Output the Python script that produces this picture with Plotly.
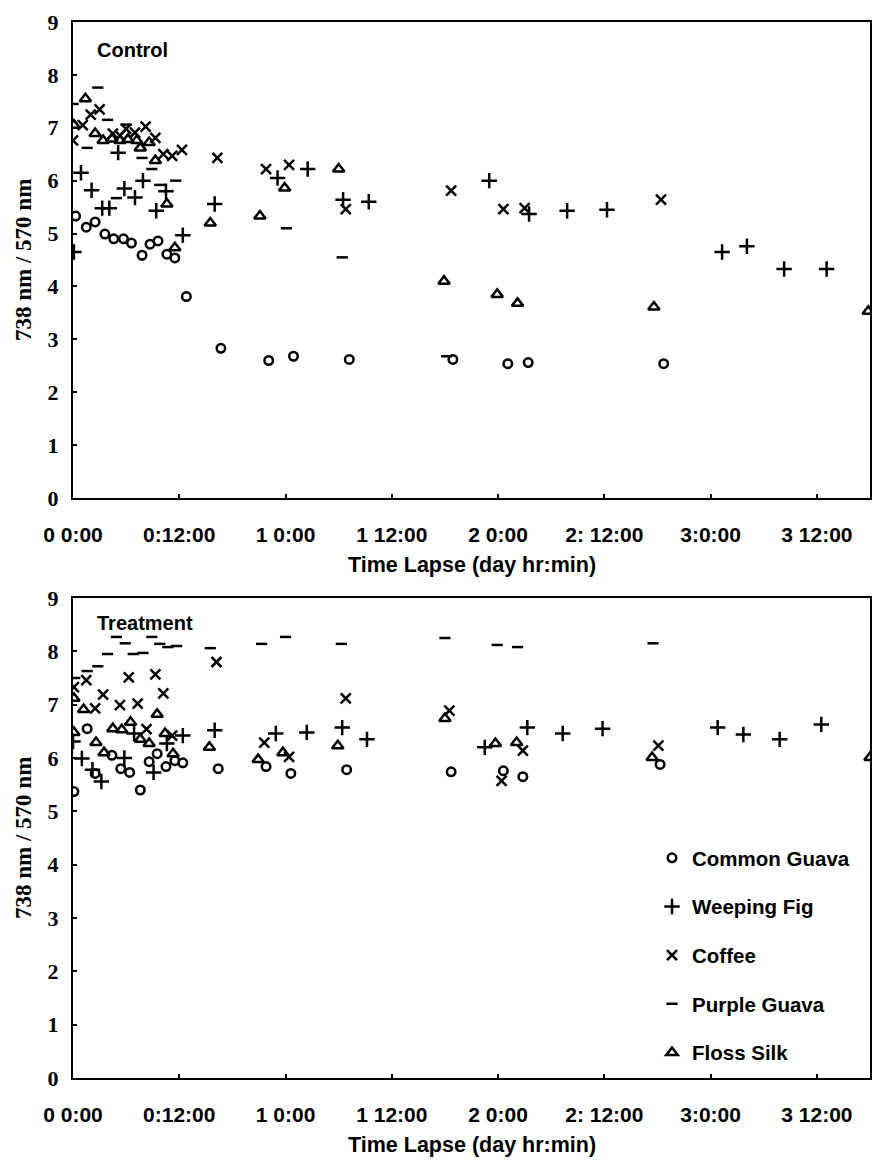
import plotly.graph_objects as go

# ---- Control panel: hours since start, 738/570 nm ratio ----
common_guava_ctrl_h = [0.3, 1.5, 2.5, 3.6, 4.6, 5.7, 6.6, 7.8, 8.7, 9.6, 10.6, 11.5, 12.8, 16.7, 22.1, 24.9, 31.2, 42.9, 49.1, 51.4, 66.7]
common_guava_ctrl_v = [5.33, 5.12, 5.22, 4.99, 4.90, 4.90, 4.82, 4.59, 4.80, 4.86, 4.61, 4.54, 3.81, 2.83, 2.60, 2.68, 2.62, 2.62, 2.54, 2.56, 2.54]

weeping_fig_ctrl_h = [0.1, 0.9, 2.1, 3.3, 4.1, 5.1, 5.8, 7.0, 7.9, 9.4, 10.5, 12.4, 16.0, 23.1, 26.5, 30.5, 33.4, 47.0, 51.5, 55.8, 60.3, 73.3, 76.1, 80.3, 85.1]
weeping_fig_ctrl_v = [4.65, 6.15, 5.82, 5.48, 5.48, 6.53, 5.85, 5.68, 6.00, 5.43, 5.80, 4.97, 5.56, 6.05, 6.22, 5.64, 5.60, 6.00, 5.37, 5.43, 5.45, 4.65, 4.76, 4.33, 4.33]

coffee_ctrl_h = [0.0, 1.1, 2.0, 3.0, 4.5, 5.3, 6.0, 7.0, 8.2, 9.3, 10.2, 11.2, 12.3, 16.3, 21.8, 24.4, 30.8, 42.7, 48.6, 51.0, 66.4]
coffee_ctrl_v = [6.76, 7.05, 7.25, 7.35, 6.89, 6.85, 6.98, 6.91, 7.02, 6.81, 6.50, 6.47, 6.58, 6.43, 6.22, 6.30, 5.46, 5.81, 5.46, 5.48, 5.64]

purple_guava_ctrl_h = [0.0, 1.6, 2.8, 3.9, 4.9, 6.0, 7.8, 8.9, 9.8, 11.6, 24.1, 30.4, 42.2]
purple_guava_ctrl_v = [7.45, 6.62, 7.76, 7.15, 5.67, 7.06, 6.43, 6.22, 5.92, 6.00, 5.10, 4.55, 2.68]

floss_silk_ctrl_h = [0.1, 1.4, 2.5, 3.4, 4.4, 5.3, 6.2, 7.2, 7.6, 8.6, 9.3, 10.6, 11.5, 15.5, 21.1, 23.9, 30.0, 41.9, 47.9, 50.2, 65.6, 89.8]
floss_silk_ctrl_v = [7.05, 7.55, 6.89, 6.76, 6.79, 6.76, 6.78, 6.76, 6.62, 6.72, 6.38, 5.56, 4.73, 5.20, 5.33, 5.86, 6.22, 4.10, 3.85, 3.68, 3.61, 3.53]

# ---- Treatment panel ----
common_guava_trt_h = [0.1, 1.6, 2.5, 4.4, 5.4, 6.4, 7.6, 8.6, 9.5, 10.5, 11.5, 12.4, 16.4, 21.8, 24.6, 30.9, 42.7, 48.6, 50.8, 66.3]
common_guava_trt_v = [5.37, 6.55, 5.71, 6.05, 5.80, 5.73, 5.40, 5.93, 6.08, 5.84, 5.95, 5.91, 5.80, 5.84, 5.71, 5.78, 5.74, 5.76, 5.65, 5.88]

weeping_fig_trt_h = [0.0, 1.0, 2.2, 3.2, 5.8, 6.9, 9.1, 10.6, 12.4, 16.0, 22.9, 26.4, 30.4, 33.2, 46.5, 51.3, 55.3, 59.8, 72.8, 75.7, 79.8, 84.5]
weeping_fig_trt_v = [6.31, 5.99, 5.78, 5.56, 6.00, 6.46, 5.73, 6.27, 6.42, 6.52, 6.46, 6.48, 6.57, 6.35, 6.20, 6.57, 6.46, 6.55, 6.57, 6.44, 6.35, 6.63]

coffee_trt_h = [0.1, 1.5, 2.5, 3.4, 5.3, 6.3, 7.3, 8.3, 9.3, 10.2, 11.2, 16.2, 21.6, 24.4, 30.8, 42.5, 48.4, 50.8, 66.1]
coffee_trt_v = [7.33, 7.46, 6.93, 7.19, 6.99, 7.51, 7.02, 6.54, 7.57, 7.21, 6.42, 7.80, 6.29, 6.02, 7.12, 6.89, 5.57, 6.14, 6.23]

purple_guava_trt_h = [0.2, 1.6, 2.8, 3.9, 4.9, 5.9, 6.8, 7.9, 8.9, 9.8, 10.7, 11.7, 15.5, 21.3, 24.0, 30.3, 42.0, 47.9, 50.2, 65.5]
purple_guava_trt_v = [7.50, 7.63, 7.72, 7.95, 8.27, 8.15, 7.95, 7.97, 8.27, 8.14, 8.08, 8.10, 8.06, 8.14, 8.27, 8.14, 8.25, 8.12, 8.08, 8.15]

floss_silk_trt_h = [0.1, 0.1, 1.2, 2.6, 3.5, 4.5, 5.5, 6.5, 7.6, 8.6, 9.5, 10.4, 11.3, 15.4, 20.9, 23.7, 29.9, 42.0, 47.7, 50.1, 65.4, 90.0]
floss_silk_trt_v = [7.12, 6.48, 6.91, 6.29, 6.10, 6.55, 6.53, 6.67, 6.35, 6.27, 6.82, 6.46, 6.08, 6.20, 5.97, 6.10, 6.23, 6.74, 6.27, 6.29, 6.01, 6.01]

# ---- axis ticks ----
tick_hours = [0, 12, 24, 36, 48, 60, 72, 84]
tick_text = ["0 0:00", "0:12:00", "1 0:00", "1 12:00", "2 0:00", "2: 12:00", "3:0:00", "3 12:00"]
series_names = ["Common Guava", "Weeping Fig", "Coffee", "Purple Guava", "Floss Silk"]
symbols = ["circle-open", "cross-thin-open", "x-thin-open", "line-ew-open", "triangle-up-open"]
sizes = [8.5, 11, 10, 8, 10]

ctrl = [
    (common_guava_ctrl_h, common_guava_ctrl_v),
    (weeping_fig_ctrl_h, weeping_fig_ctrl_v),
    (coffee_ctrl_h, coffee_ctrl_v),
    (purple_guava_ctrl_h, purple_guava_ctrl_v),
    (floss_silk_ctrl_h, floss_silk_ctrl_v),
]
trt = [
    (common_guava_trt_h, common_guava_trt_v),
    (weeping_fig_trt_h, weeping_fig_trt_v),
    (coffee_trt_h, coffee_trt_v),
    (purple_guava_trt_h, purple_guava_trt_v),
    (floss_silk_trt_h, floss_silk_trt_v),
]

W, H = 872, 1169
SANS = "Liberation Sans, Arial, sans-serif"
SERIF = "Liberation Serif, Times New Roman, serif"

fig = go.Figure()

for i, (name, sym, sz) in enumerate(zip(series_names, symbols, sizes)):
    xs, ys = ctrl[i]
    fig.add_trace(go.Scatter(
        x=xs, y=ys, mode="markers", name=name, legendgroup=name, showlegend=False,
        xaxis="x", yaxis="y",
        marker=dict(symbol=sym, size=sz, color="black", line=dict(color="black", width=2.5)),
    ))
    xs, ys = trt[i]
    fig.add_trace(go.Scatter(
        x=xs, y=ys, mode="markers", name=name, legendgroup=name, showlegend=True,
        xaxis="x2", yaxis="y2",
        marker=dict(symbol=sym, size=sz, color="black", line=dict(color="black", width=2.5)),
    ))


def px_x(p):
    return p / W


def px_y(p):
    return (H - p) / H


x_dom = [px_x(73), px_x(870)]
top_dom = [px_y(498), px_y(22)]
bot_dom = [px_y(1078), px_y(598)]

xaxis_style = dict(
    range=[0, 90], tickvals=tick_hours, ticktext=tick_text,
    showgrid=False, zeroline=False, showline=True, linecolor="black", linewidth=2,
    mirror=True, ticks="inside", ticklen=4, tickwidth=1.5, tickcolor="black",
    tickfont=dict(family=SANS, size=21, color="black", weight="bold"),
    ticklabelstandoff=17, automargin=False, domain=x_dom, fixedrange=True,
)
yaxis_style = dict(
    range=[0, 9], dtick=1, showgrid=False, zeroline=False, showline=True,
    linecolor="black", linewidth=2, mirror=True, ticks="inside", ticklen=4,
    tickwidth=1.5, tickcolor="black",
    tickfont=dict(family=SERIF, size=22, color="black", weight="bold"),
    ticklabelstandoff=8, automargin=False, fixedrange=True,
)

fig.update_layout(
    width=W, height=H,
    margin=dict(l=0, r=0, t=0, b=0),
    paper_bgcolor="white", plot_bgcolor="white",
    xaxis=dict(**xaxis_style, anchor="y"),
    yaxis=dict(**yaxis_style, domain=top_dom, anchor="x"),
    xaxis2=dict(**xaxis_style, anchor="y2"),
    yaxis2=dict(**yaxis_style, domain=bot_dom, anchor="x2"),
    legend=dict(
        x=px_x(652), y=px_y(838), xanchor="left", yanchor="top",
        font=dict(family=SANS, size=20.5, color="black", weight="bold"),
        tracegroupgap=19, bgcolor="rgba(0,0,0,0)", borderwidth=0,
    ),
    showlegend=True,
)

annotations = [
    dict(text="Control", x=px_x(95), y=px_y(50), xanchor="left", yanchor="middle", size=20),
    dict(text="Treatment", x=px_x(95), y=px_y(623), xanchor="left", yanchor="middle", size=20),
    dict(text="Time Lapse (day hr:min)", x=px_x(472), y=px_y(565), xanchor="center", yanchor="middle", size=21.5),
    dict(text="Time Lapse (day hr:min)", x=px_x(472), y=px_y(1145), xanchor="center", yanchor="middle", size=21.5),
]
for a in annotations:
    fsize = a.pop("size")
    a.update(xref="paper", yref="paper", showarrow=False,
             font=dict(family=SANS, size=fsize, color="black", weight="bold"))
    fig.add_annotation(**a)

for yc in (260, 838):
    fig.add_annotation(
        text="738 nm / 570 nm", x=px_x(24), y=px_y(yc), xref="paper", yref="paper",
        textangle=-90, showarrow=False, xanchor="center", yanchor="middle",
        font=dict(family=SERIF, size=23, color="black", weight="bold"),
    )

fig.write_html("out.html")
